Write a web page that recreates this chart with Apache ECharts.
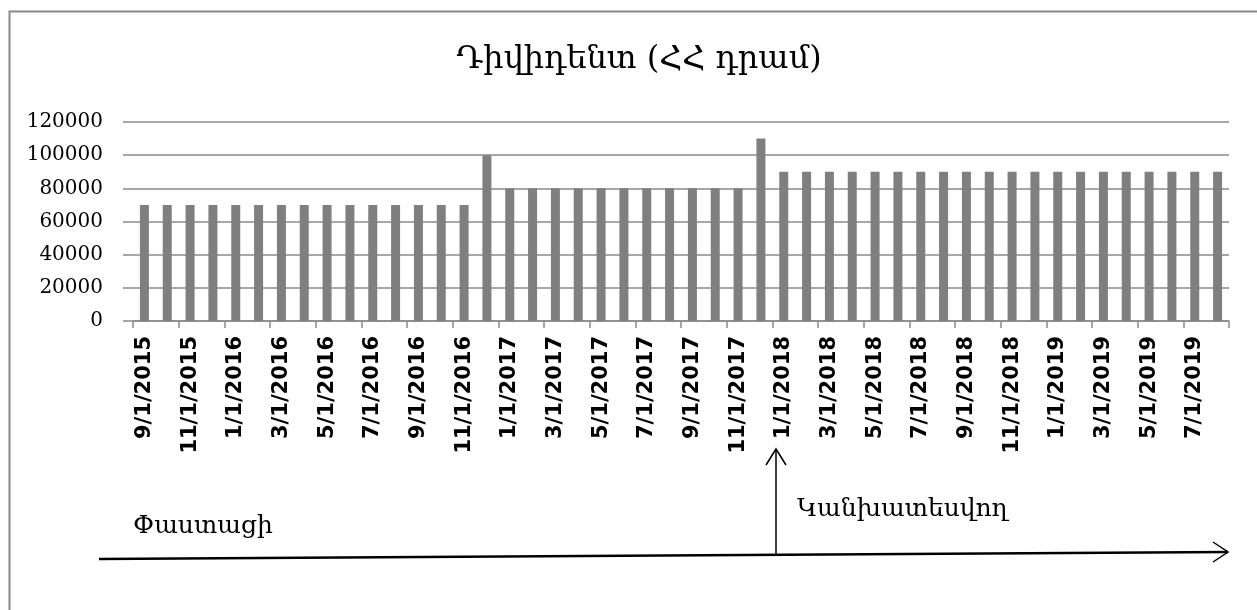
<!DOCTYPE html>
<html>
<head>
<meta charset="utf-8">
<script src="https://cdn.jsdelivr.net/npm/echarts@6/dist/echarts.min.js"></script>
<style>
html,body{margin:0;padding:0;background:#fff;}
#chart{width:1257px;height:610px;}
</style>
</head>
<body>
<div id="chart"></div>
<script>
const titleText = 'Դիվիդենտ (ՀՀ դրամ)';
const actualLabel = 'Փաստացի';
const forecastLabel = 'Կանխատեսվող';

const categories = [
  '9/1/2015','10/1/2015','11/1/2015','12/1/2015',
  '1/1/2016','2/1/2016','3/1/2016','4/1/2016','5/1/2016','6/1/2016',
  '7/1/2016','8/1/2016','9/1/2016','10/1/2016','11/1/2016','12/1/2016',
  '1/1/2017','2/1/2017','3/1/2017','4/1/2017','5/1/2017','6/1/2017',
  '7/1/2017','8/1/2017','9/1/2017','10/1/2017','11/1/2017','12/1/2017',
  '1/1/2018','2/1/2018','3/1/2018','4/1/2018','5/1/2018','6/1/2018',
  '7/1/2018','8/1/2018','9/1/2018','10/1/2018','11/1/2018','12/1/2018',
  '1/1/2019','2/1/2019','3/1/2019','4/1/2019','5/1/2019','6/1/2019',
  '7/1/2019','8/1/2019'
];

const dividends = [
  70000,70000,70000,70000,
  70000,70000,70000,70000,70000,70000,
  70000,70000,70000,70000,70000,100000,
  80000,80000,80000,80000,80000,80000,
  80000,80000,80000,80000,80000,110000,
  90000,90000,90000,90000,90000,90000,
  90000,90000,90000,90000,90000,90000,
  90000,90000,90000,90000,90000,90000,
  90000,90000
];

const yTicks = [0, 20000, 40000, 60000, 80000, 100000, 120000];

const chart = echarts.init(document.getElementById('chart'), null, {renderer: 'canvas'});

const gridGray = '#8a8a8a';

chart.setOption({
  animation: false,
  backgroundColor: '#ffffff',
  title: {
    text: titleText,
    left: 634,
    textAlign: 'center',
    top: 39,
    textStyle: {
      fontFamily: 'DejaVu Serif',
      fontSize: 32,
      fontWeight: 'normal',
      color: '#000'
    }
  },
  grid: {
    left: 133,
    right: 28,
    top: 122,
    bottom: 289,
    containLabel: false
  },
  xAxis: {
    type: 'category',
    data: categories,
    boundaryGap: true,
    axisLine: {show: true, lineStyle: {color: gridGray, width: 1.5}},
    axisTick: {show: true, interval: 1, length: 7, alignWithLabel: false, lineStyle: {color: gridGray, width: 1.5}},
    axisLabel: {
      interval: 1,
      rotate: 90,
      margin: 15,
      fontFamily: 'DejaVu Sans',
      fontWeight: 'bold',
      fontSize: 21,
      color: '#000'
    },
    splitLine: {show: false}
  },
  yAxis: {
    type: 'value',
    min: yTicks[0],
    max: yTicks[yTicks.length - 1],
    interval: yTicks[1] - yTicks[0],
    axisLine: {show: false},
    axisTick: {show: true, length: 10, lineStyle: {color: gridGray, width: 1.5}},
    axisLabel: {
      margin: 30,
      fontFamily: 'DejaVu Serif',
      fontSize: 20,
      color: '#000',
      formatter: function (v) { return String(v); }
    },
    splitLine: {show: true, lineStyle: {color: gridGray, width: 1.5}}
  },
  series: [{
    type: 'bar',
    data: dividends,
    barWidth: 9,
    itemStyle: {color: '#7f7f7f'},
    silent: true
  }],
  graphic: [
    {
      type: 'rect',
      shape: {x: 9.5, y: 11.5, width: 1300, height: 700},
      style: {fill: 'none', stroke: '#898989', lineWidth: 2},
      silent: true, z: 100
    },
    {
      type: 'line',
      shape: {x1: 99, y1: 559, x2: 1228, y2: 552},
      style: {stroke: '#000', lineWidth: 2.5},
      silent: true, z: 100
    },
    {
      type: 'polyline',
      shape: {points: [[1213, 542], [1228, 552], [1213, 562]]},
      style: {stroke: '#000', lineWidth: 1.5, fill: 'none'},
      silent: true, z: 100
    },
    {
      type: 'line',
      shape: {x1: 776, y1: 556, x2: 776, y2: 449},
      style: {stroke: '#000', lineWidth: 1.5},
      silent: true, z: 100
    },
    {
      type: 'polyline',
      shape: {points: [[766, 465], [776, 449], [786, 465]]},
      style: {stroke: '#000', lineWidth: 1.5, fill: 'none'},
      silent: true, z: 100
    },
    {
      type: 'text',
      x: 133, y: 539,
      style: {
        text: actualLabel,
        font: '25px "DejaVu Serif"',
        fill: '#000',
        textAlign: 'left',
        textVerticalAlign: 'bottom'
      },
      silent: true, z: 100
    },
    {
      type: 'text',
      x: 797, y: 522,
      style: {
        text: forecastLabel,
        font: '25px "DejaVu Serif"',
        fill: '#000',
        textAlign: 'left',
        textVerticalAlign: 'bottom'
      },
      silent: true, z: 100
    }
  ]
});
</script>
</body>
</html>
